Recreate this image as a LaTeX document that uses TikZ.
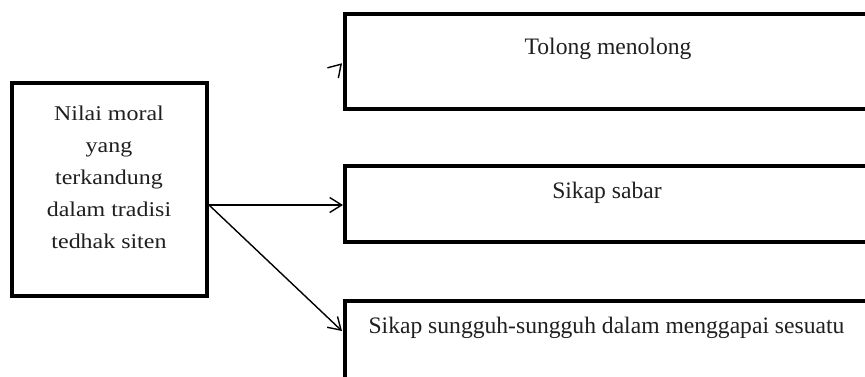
\documentclass[tikz,border=0pt]{standalone}
\usepackage{fontspec}
\setmainfont{Liberation Serif}
\usetikzlibrary{arrows.meta,calc}
\begin{document}
\begin{tikzpicture}[x=1pt,y=-1pt,
  box/.style={draw=black, line width=4pt, rectangle, inner sep=0pt, fill=white},
  lbl/.style={inner sep=0pt, text=black!88, font=\fontsize{23.6}{28}\selectfont, anchor=base},
  arr/.style={line width=1.4pt, -{Straight Barb[length=12pt,width=15pt,line width=1.4pt]}}]
\useasboundingbox (0,0) rectangle (865,376);
\clip (0,0) rectangle (865,376);
\fill[white] (0,0) rectangle (865,376);
% left box
\node[box, minimum width=195pt, minimum height=213pt] (lb) at (109.5,189.5) {};
\node[inner sep=0pt, text=black!88, align=center, anchor=base, xscale=1.14, transform shape,
      font=\fontsize{21}{32}\selectfont] (lt) at (109,248)
  {Nilai moral\\yang\\terkandung\\dalam tradisi\\tedhak siten};
% right boxes
\node[box, minimum width=560pt, minimum height=95.5pt] (b1) at (625,61.25) {};
\node[box, minimum width=560pt, minimum height=76pt] (b2) at (625,204) {};
\node[box, minimum width=560pt, minimum height=139pt] (b3) at (625,370.5) {};
\node[lbl] (t1) at (608,54) {Tolong menolong};
\node[lbl] (t2) at (607,198) {Sikap sabar};
\node[lbl] (t3) at (606.5,333) {Sikap sungguh-sungguh dalam menggapai sesuatu};
% connectors
\coordinate (s) at ([yshift=-15.5pt]lb.east);
\coordinate (e1) at ([yshift=-2pt,xshift=-1pt]b1.west);
\coordinate (e2) at (b2.west |- s);
\coordinate (e3) at ([yshift=-32pt,xshift=-1pt]b3.north west);
\coordinate (s1) at ($(e1)!2pt!(s)$);
\draw[arr] (s1) -- (e1);
\draw[arr] (s) -- (e2);
\draw[arr] (s) -- (e3);
\end{tikzpicture}
\end{document}
